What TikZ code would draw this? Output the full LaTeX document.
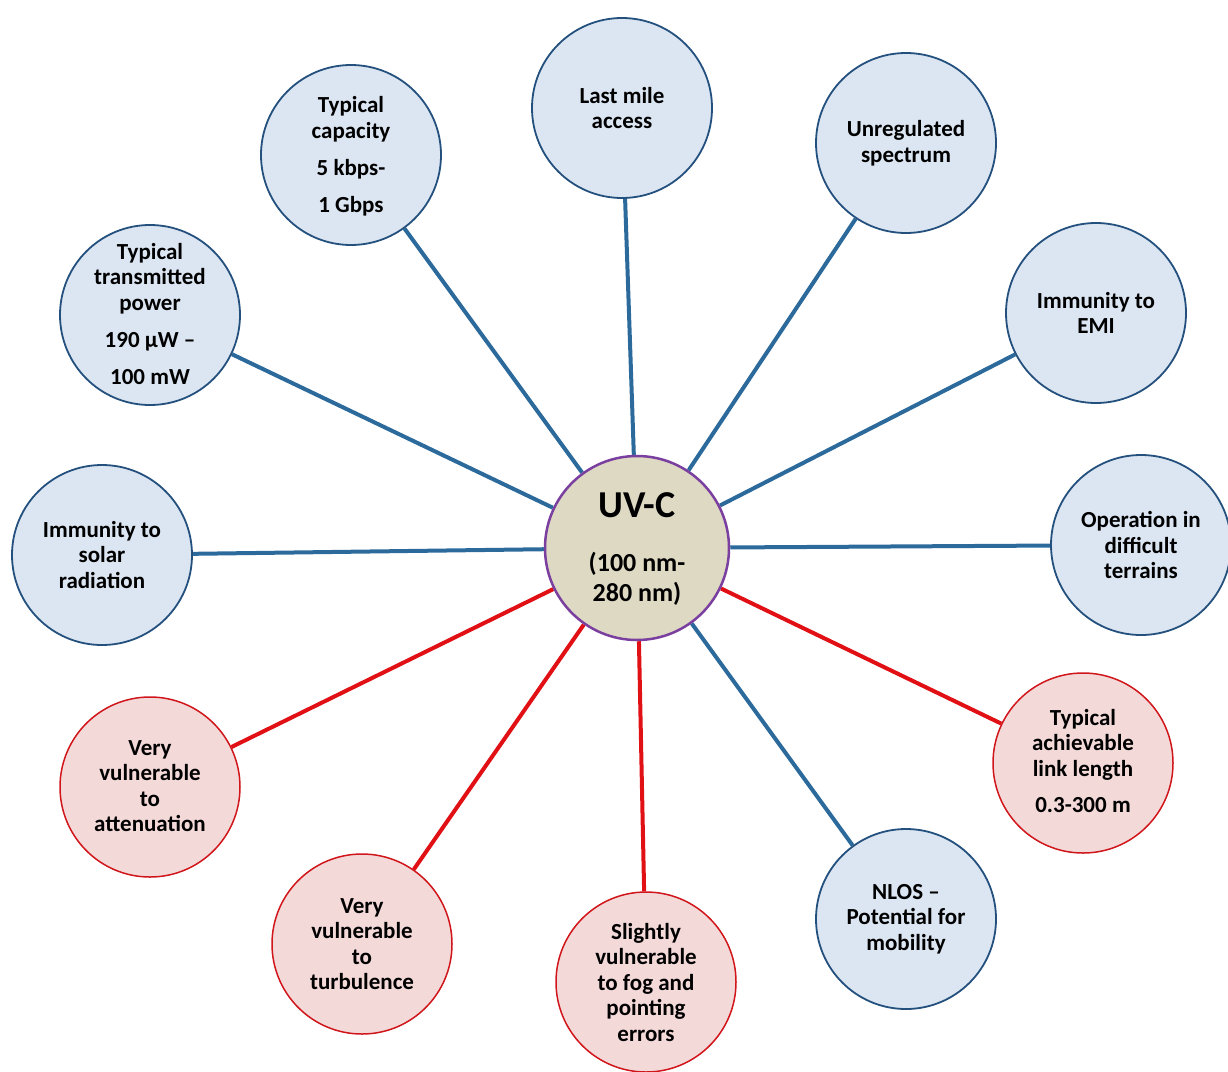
\documentclass[tikz,border=0pt]{standalone}
\usepackage{fontspec}
\setmainfont{Carlito}
\usetikzlibrary{backgrounds}
\definecolor{bfill}{HTML}{DCE6F2}
\definecolor{bdraw}{HTML}{24507E}
\definecolor{blinec}{HTML}{2C6A9C}
\definecolor{rfill}{HTML}{F4D9D9}
\definecolor{rdraw}{HTML}{D0161B}
\definecolor{rlinec}{HTML}{E01015}
\definecolor{cfill}{HTML}{DDD9C3}
\definecolor{cdraw}{HTML}{7B3FA0}
\begin{document}
\begin{tikzpicture}[x=1pt,y=-1pt,
  bcirc/.style={circle, draw=bdraw, line width=1.8pt, fill=bfill, minimum size=180pt, inner sep=0pt},
  rcirc/.style={circle, draw=rdraw, line width=1.5pt, fill=rfill, minimum size=180pt, inner sep=0pt},
  ccirc/.style={circle, draw=cdraw, line width=2.5pt, fill=cfill, minimum size=184pt, inner sep=0pt},
  txt/.style={align=center, font=\fontsize{23}{25.5}\selectfont\bfseries, inner sep=0pt, text=black},
  bconn/.style={draw=blinec, line width=4pt},
  rconn/.style={draw=rlinec, line width=4pt}]
\useasboundingbox (0,0) rectangle (1228,1071);

% centre
\node[ccirc] (c) at (637,548) {};
\node[align=center, inner sep=0pt, font=\fontsize{26}{30}\selectfont\bfseries, text=black] (ct) at (637,549)
  {{\fontsize{38}{40}\selectfont UV-C}\\[24pt](100 nm-\\280 nm)};

% blue circles
\node[bcirc] (n1) at (622,108) {};
\node[txt] (t1) at (n1.center) {Last mile\\access};
\node[bcirc] (n2) at (351,155) {};
\node[txt] (t2) at (351,156) {Typical\\capacity\\[12pt]5 kbps-\\[11pt]1 Gbps};
\node[bcirc] (n3) at (906,143) {};
\node[txt] (t3) at (n3.center) {Unregulated\\spectrum};
\node[bcirc] (n4) at (150,315) {};
\node[txt] (t4) at (150,314) {Typical\\transmitted\\power\\[12pt]190 µW –\\[11pt]100 mW};
\node[bcirc] (n5) at (1096,313) {};
\node[txt] (t5) at (n5.center) {Immunity to\\EMI};
\node[bcirc] (n6) at (102,555) {};
\node[txt] (t6) at (n6.center) {Immunity to\\solar\\radiation};
\node[bcirc] (n7) at (1141,545) {};
\node[txt] (t7) at (n7.center) {Operation in\\difficult\\terrains};
\node[bcirc] (n12) at (906,919) {};
\node[txt] (t12) at (n12.center) {NLOS –\\Potential for\\mobility};

% red circles
\node[rcirc] (n8) at (150,787) {};
\node[txt] (t8) at (150,786) {Very\\vulnerable\\to\\attenuation};
\node[rcirc] (n9) at (1083,763) {};
\node[txt] (t9) at (1083,761) {Typical\\achievable\\link length\\[11pt]0.3-300 m};
\node[rcirc] (n10) at (362,944) {};
\node[txt] (t10) at (n10.center) {Very\\vulnerable\\to\\turbulence};
\node[rcirc] (n11) at (646,982) {};
\node[txt] (t11) at (n11.center) {Slightly\\vulnerable\\to fog and\\pointing\\errors};

\begin{scope}[on background layer]
\foreach \n in {n1,n2,n3,n4,n5,n6,n7,n12} \draw[bconn] (c) -- (\n);
\foreach \n in {n8,n9,n10,n11} \draw[rconn] (c) -- (\n);
\end{scope}
\end{tikzpicture}
\end{document}
